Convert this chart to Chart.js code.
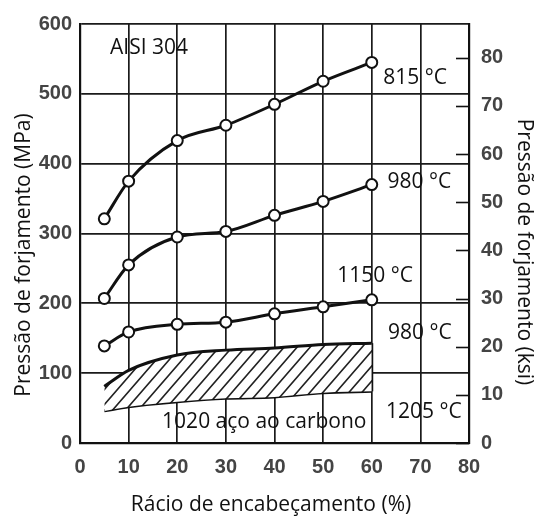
<!DOCTYPE html>
<html lang="pt">
<head>
<meta charset="UTF-8">
<title>Pressão de forjamento - AISI 304</title>
<script src="https://cdn.jsdelivr.net/npm/chart.js"></script>
<style>
  html, body { margin: 0; padding: 0; background: #fff; }
  #wrap { width: 536px; height: 520px; }
</style>
</head>
<body>
<div id="wrap"><canvas id="grafico" width="536" height="520"></canvas></div>
<script>
// Rácio de encabeçamento (%)
const reducao = [5, 10, 20, 30, 40, 50, 60];
// AISI 304, pressão em MPa
const p815 = [321, 375, 433, 455, 485, 518, 545];
const p980 = [207, 255, 295, 303, 326, 346, 370];
const p1150 = [139, 159, 170, 173, 185, 195, 205];
// 1020 aço ao carbono: faixa entre 980 °C (em cima) e 1205 °C (em baixo)
const c980 = [81, 104, 126, 133, 136, 141, 143];
const c1205 = [46, 52, 59, 64, 66, 72, 74];

const ksiTicks = [0, 10, 20, 30, 40, 50, 60, 70, 80];
const MPA_POR_KSI = 6.894757;

// textos dentro do gráfico, em coordenadas dos eixos (x %, y MPa)
const rotulos = [
  { texto: 'AISI 304', x: 14.2, y: 565 },
  { texto: '815 °C', x: 68.9, y: 523 },
  { texto: '980 °C', x: 69.8, y: 374 },
  { texto: '1150 °C', x: 60.7, y: 239 },
  { texto: '980 °C', x: 69.9, y: 158 },
  { texto: '1205 °C', x: 70.7, y: 44 },
  { texto: '1020 aço ao carbono', x: 37.9, y: 30 }
];

const fonteEixo = "'Liberation Sans', sans-serif";
const fonteTexto = "'Open Sans', 'Noto Sans', sans-serif";
const preto = '#111';

const pontos = vals => vals.map((v, i) => ({ x: reducao[i], y: v }));

// tracejado diagonal da faixa do aço carbono
function hachura() {
  const c = document.createElement('canvas');
  c.width = 13; c.height = 15;
  const g = c.getContext('2d');
  g.fillStyle = '#fff';
  g.fillRect(0, 0, 13, 15);
  g.strokeStyle = '#222';
  g.lineWidth = 1.6;
  g.beginPath();
  g.moveTo(-3, 18.46); g.lineTo(16, -3.46);
  g.moveTo(-16, 18.46); g.lineTo(3, -3.46);
  g.moveTo(10, 18.46); g.lineTo(29, -3.46);
  g.stroke();
  return g.createPattern(c, 'repeat');
}

const serie = vals => ({
  data: pontos(vals),
  borderColor: preto,
  borderWidth: 3,
  pointRadius: 5.5,
  pointBorderWidth: 2,
  pointBackgroundColor: '#fff',
  pointBorderColor: preto,
  cubicInterpolationMode: 'monotone',
  fill: false
});

const decoracao = {
  id: 'decoracao',
  afterDraw(chart) {
    const { ctx, scales: { x, y, y2 } } = chart;
    ctx.save();
    // marcas do eixo ksi, viradas para dentro
    ctx.strokeStyle = preto;
    ctx.lineWidth = 1.6;
    ksiTicks.forEach(v => {
      const py = Math.round(y2.getPixelForValue(v)) + 0.5;
      ctx.beginPath();
      ctx.moveTo(y2.left - 13, py);
      ctx.lineTo(y2.left, py);
      ctx.stroke();
    });

    ctx.fillStyle = preto;
    ctx.textAlign = 'center';
    ctx.textBaseline = 'middle';
    ctx.font = '21px ' + fonteTexto;
    rotulos.forEach(r => ctx.fillText(r.texto, x.getPixelForValue(r.x), y.getPixelForValue(r.y)));

    // títulos dos eixos
    ctx.font = '21px ' + fonteTexto;
    ctx.fillText('Rácio de encabeçamento (%)', 271, 505);
    ctx.save();
    ctx.translate(24, 255);
    ctx.rotate(-Math.PI / 2);
    ctx.fillText('Pressão de forjamento (MPa)', 0, 0);
    ctx.restore();
    ctx.save();
    ctx.translate(524, 252);
    ctx.rotate(Math.PI / 2);
    ctx.fillText('Pressão de forjamento (ksi)', 0, 0);
    ctx.restore();
    ctx.restore();
  }
};

// números dos eixos em letra estreita
const fonteTick = { family: fonteEixo, size: 20, weight: 'bold condensed' };

new Chart(document.getElementById('grafico'), {
  type: 'line',
  data: {
    datasets: [
      Object.assign(serie(c980), { pointRadius: 0, fill: '+1', backgroundColor: hachura() }),
      Object.assign(serie(c1205), { pointRadius: 0 }),
      // fecho da faixa em 60 %
      Object.assign(serie([]), {
        data: [{ x: reducao[6], y: c1205[6] }, { x: reducao[6], y: c980[6] }],
        pointRadius: 0
      }),
      serie(p1150),
      serie(p980),
      serie(p815)
    ]
  },
  options: {
    responsive: false,
    animation: false,
    layout: { padding: { top: 15, left: 0, right: 0, bottom: 0 } },
    plugins: { legend: { display: false }, tooltip: { enabled: false } },
    scales: {
      x: {
        type: 'linear', min: 0, max: 80, position: 'bottom',
        ticks: { stepSize: 10, padding: 12, color: '#444', font: fonteTick },
        grid: { color: '#1a1a1a', lineWidth: 1.7, drawTicks: false },
        border: { color: preto, width: 2.2 },
        afterFit: s => { s.height = 77; }
      },
      y: {
        min: 0, max: 600, position: 'left',
        ticks: { stepSize: 100, padding: 8, color: '#444', font: fonteTick },
        grid: { color: '#1a1a1a', lineWidth: 1.7, drawTicks: false },
        border: { color: preto, width: 2.2 },
        afterFit: s => { s.width = 80; }
      },
      y2: {
        min: 0, max: 600 / MPA_POR_KSI, position: 'right',
        ticks: { stepSize: 10, includeBounds: false, padding: 12, color: '#444', font: fonteTick },
        grid: { display: false, drawTicks: false },
        border: { color: preto, width: 2.2 },
        afterFit: s => { s.width = 67; }
      }
    }
  },
  plugins: [decoracao]
});
</script>
</body>
</html>
